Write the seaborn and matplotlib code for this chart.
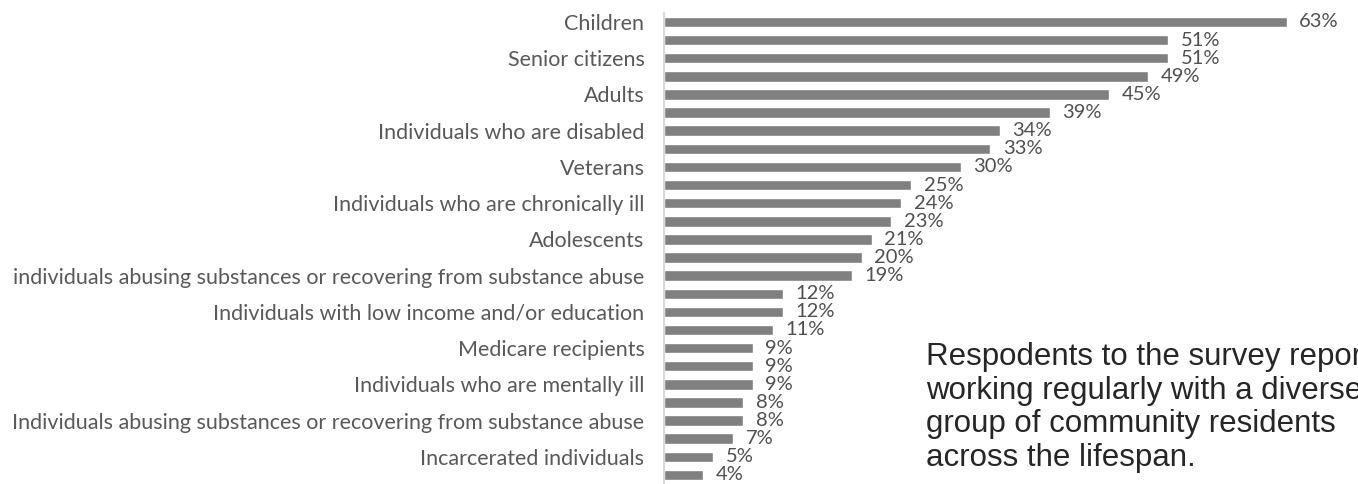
import matplotlib
matplotlib.use("Agg")
import matplotlib.pyplot as plt
import pandas as pd
import seaborn as sns

# values for all 26 bars, top to bottom
values = [63, 51, 51, 49, 45, 39, 34, 33, 30, 25, 24, 23, 21, 20, 19,
          12, 12, 11, 9, 9, 9, 8, 8, 7, 5, 4]
# only every other bar carries a category label
labels = [
    "Children",
    "Senior citizens",
    "Adults",
    "Individuals who are disabled",
    "Veterans",
    "Individuals who are chronically ill",
    "Adolescents",
    "individuals abusing substances or recovering from substance abuse",
    "Individuals with low income and/or education",
    "Medicare recipients",
    "Individuals who are mentally ill",
    "Individuals abusing substances or recovering from substance abuse",
    "Incarcerated individuals",
]
note = ("Respodents to the survey reported\n"
        "working regularly with a diverse\n"
        "group of community residents\n"
        "across the lifespan.")

df = pd.DataFrame({"pos": list(range(len(values))), "value": values})

sns.set_style("white")
plt.rcParams["font.family"] = ["Lato", "DejaVu Sans"]

fig = plt.figure(figsize=(13.58, 4.84), dpi=100)
ax = fig.add_axes([0.4889, 0.0, 0.5111, 0.9733])

sns.barplot(data=df, x="value", y="pos", orient="h", color="#808080",
            width=0.58, saturation=1, ax=ax)

ax.set_xlim(0, 70.2)
ax.set_ylim(len(values) - 0.5, -0.5)
ax.set_yticks(list(range(0, len(values), 2)))
ax.set_yticklabels(labels, fontsize=15.5, color="#595959")
ax.tick_params(axis="y", length=0, pad=14)
ax.set_xticks([])
ax.set_xlabel("")
ax.set_ylabel("")

for side in ["top", "right", "bottom"]:
    ax.spines[side].set_visible(False)
ax.spines["left"].set_color("#d9d9d9")
ax.spines["left"].set_linewidth(1.5)

ax.bar_label(ax.containers[0], labels=[f"{v}%" for v in values],
             padding=9, fontsize=14.5, color="#505050")

# the note runs past the right edge in the original slide
fig.text(0.682, 0.158, note, fontsize=22.5, color="#262626",
         family="Liberation Sans", va="center", ha="left", linespacing=1.17)

fig.savefig("out.png", dpi=100)
